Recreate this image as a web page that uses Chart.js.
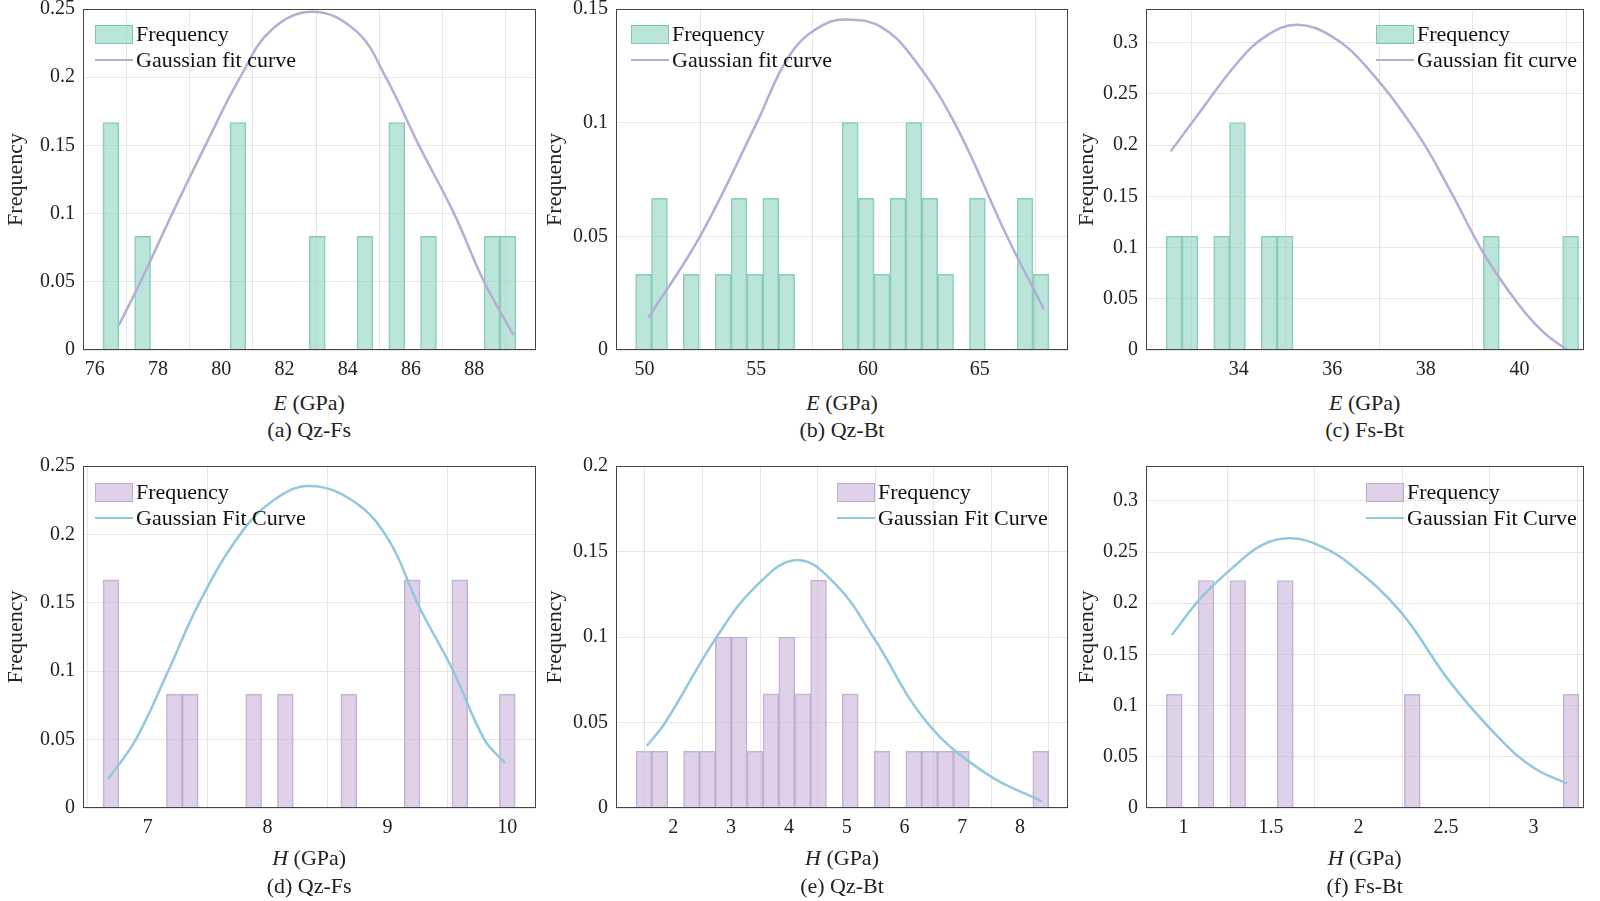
<!DOCTYPE html>
<html lang="en">
<head>
<meta charset="UTF-8">
<title>Frequency histograms with Gaussian fits</title>
<script src="https://cdn.jsdelivr.net/npm/chart.js"></script>
<style>
    body { margin: 0; background: #fff; font-family: "Liberation Serif", serif; }
    #wrap { position: relative; width: 1600px; height: 901px; overflow: hidden; }
    .cv { position: absolute; }
    .txt { position: absolute; font-size: 22px; color: #222; white-space: nowrap; transform: translate(-50%, -50%); }
    .leg { position: absolute; font-size: 22px; color: #111; white-space: nowrap; line-height: 26px; }
    .leg .row { display: flex; align-items: center; height: 26px; }
    .leg .sw { width: 38px; height: 19px; margin-right: 3px; box-sizing: border-box; }
    .leg .ln { width: 38px; height: 2.5px; margin-right: 3px; }
</style>
</head>
<body>
<div id="wrap"></div>

<script>
// ---- data ----
// histogram bins: start, width, heights per bin
const binStartA = 76.26, binWidthA = 0.502;
const freqA = [0.1667,0,0.0833,0,0,0,0,0,0.1667,0,0,0,0,0.0833,0,0,0.0833,0,0.1667,0,0.0833,0,0,0,0.0833,0.0833];
const fitA = [[76.76,0.018],[77.45,0.05],[78.45,0.10],[79.5,0.15],[80.6,0.20],[81.6,0.235],[82.93,0.248],[84.3,0.233],[85.2,0.20],[86.25,0.15],[87.36,0.10],[88.31,0.05],[89.24,0.011]];

const binStartB = 49.61, binWidthB = 0.711;
const freqB = [0.0333,0.0667,0,0.0333,0,0.0333,0.0667,0.0333,0.0667,0.0333,0,0,0,0.1,0.0667,0.0333,0.0667,0.1,0.0667,0.0333,0,0.0667,0,0,0.0667,0.0333];
const fitB = [[50.18,0.0143],[52.49,0.05],[55.03,0.10],[56.52,0.13],[58.0,0.143],[59.28,0.1453],[60.6,0.142],[61.9,0.13],[63.87,0.10],[66.22,0.05],[67.87,0.018]];

const binStartC = 32.45, binWidthC = 0.339;
const freqC = [0.1111,0.1111,0,0.1111,0.2222,0,0.1111,0.1111,0,0,0,0,0,0,0,0,0,0,0,0,0.1111,0,0,0,0,0.1111];
const fitC = [[32.55,0.194],[33.18,0.233],[34.0,0.282],[34.6,0.307],[35.25,0.3176],[36.0,0.306],[36.74,0.276],[37.81,0.212],[38.53,0.155],[39.24,0.094],[39.95,0.0465],[40.5,0.018],[41.02,0.0]];

const binStartD = 6.627, binWidthD = 0.1323;
const freqD = [0.1667,0,0,0,0.0833,0.0833,0,0,0,0.0833,0,0.0833,0,0,0,0.0833,0,0,0,0.1667,0,0,0.1667,0,0,0.0833];
const fitD = [[6.67,0.0213],[6.90,0.05],[7.17,0.10],[7.43,0.15],[7.77,0.20],[8.05,0.225],[8.35,0.2353],[8.72,0.224],[9.01,0.196],[9.26,0.148],[9.55,0.10],[9.81,0.05],[9.98,0.033]];

const binStartE = 1.354, binWidthE = 0.2747;
const freqE = [0.0333,0.0333,0,0.0333,0.0333,0.1,0.1,0.0333,0.0667,0.1,0.0667,0.1333,0,0.0667,0,0.0333,0,0.0333,0.0333,0.0333,0.0333,0,0,0,0,0.0333];
const fitE = [[1.54,0.0363],[1.86,0.05],[2.75,0.10],[3.44,0.13],[4.15,0.1451],[4.83,0.13],[5.46,0.10],[6.39,0.05],[7.42,0.02],[8.375,0.0039]];

const binStartF = 0.901, binWidthF = 0.0907;
const freqF = [0.1111,0,0.2222,0,0.2222,0,0,0.2222,0,0,0,0,0,0,0,0.1111,0,0,0,0,0,0,0,0,0,0.1111];
const fitF = [[0.933,0.169],[1.095,0.2045],[1.286,0.2356],[1.45,0.257],[1.61,0.2634],[1.78,0.256],[1.952,0.238],[2.238,0.192],[2.524,0.1227],[2.81,0.0671],[3.0,0.0393],[3.19,0.0239]];

// tick labels
const xTicksA = [76,78,80,82,84,86,88], xTicksB = [50,55,60,65], xTicksC = [34,36,38,40];
const xTicksD = [7,8,9,10], xTicksE = [2,3,4,5,6,7,8], xTicksF = [1,1.5,2,2.5,3];
const yTicksA = [0,0.05,0.1,0.15,0.2,0.25], yTicksB = [0,0.05,0.1,0.15];
const yTicksC = [0,0.05,0.1,0.15,0.2,0.25,0.3], yTicksE = [0,0.05,0.1,0.15,0.2];

const panels = [
    { start: binStartA, width: binWidthA, freq: freqA, fit: fitA, xmin: 75.63, xmax: 89.95, ymax: 0.25, xt: xTicksA, yt: yTicksA,
      rect: [82.7, 8.3, 535.7, 347.3], padL: 80, leg: [95, 21], fitName: 'Gaussian fit curve', xl: 'E', cap: '(a) Qz-Fs', row: 0 },
    { start: binStartB, width: binWidthB, freq: freqB, fit: fitB, xmin: 48.73, xmax: 68.95, ymax: 0.15, xt: xTicksB, yt: yTicksB,
      rect: [616, 8.3, 1068, 347.3], padL: 74, leg: [631, 21], fitName: 'Gaussian fit curve', xl: 'E', cap: '(b) Qz-Bt', row: 0 },
    { start: binStartC, width: binWidthC, freq: freqC, fit: fitC, xmin: 32.02, xmax: 41.38, ymax: 0.333, xt: xTicksC, yt: yTicksC,
      rect: [1145.7, 8.3, 1583.7, 347.3], padL: 72, leg: [1376, 21], fitName: 'Gaussian fit curve', xl: 'E', cap: '(c) Fs-Bt', row: 0 },
    { start: binStartD, width: binWidthD, freq: freqD, fit: fitD, xmin: 6.46, xmax: 10.24, ymax: 0.25, xt: xTicksD, yt: yTicksA,
      rect: [82.7, 465, 535.7, 805], padL: 80, leg: [95, 479], fitName: 'Gaussian Fit Curve', xl: 'H', cap: '(d) Qz-Fs', row: 1 },
    { start: binStartE, width: binWidthE, freq: freqE, fit: fitE, xmin: 1.008, xmax: 8.83, ymax: 0.2, xt: xTicksE, yt: yTicksE,
      rect: [616, 465, 1068, 805], padL: 74, leg: [837, 479], fitName: 'Gaussian Fit Curve', xl: 'H', cap: '(e) Qz-Bt', row: 1 },
    { start: binStartF, width: binWidthF, freq: freqF, fit: fitF, xmin: 0.785, xmax: 3.288, ymax: 0.334, xt: xTicksF, yt: yTicksC,
      rect: [1145.7, 465, 1583.7, 805], padL: 72, leg: [1366, 479], fitName: 'Gaussian Fit Curve', xl: 'H', cap: '(f) Fs-Bt', row: 1 }
];

const colors = [
    { bar: 'rgba(150,215,198,0.65)', barEdge: 'rgba(110,190,170,0.8)', line: '#b3aed6' },
    { bar: 'rgba(204,184,220,0.65)', barEdge: 'rgba(180,160,200,0.8)', line: '#92c8dd' }
];

const wrap = document.getElementById('wrap');
// space the library keeps above / below the plot box (tick label overflow, x tick row)
const padT = 19, padR = 10, padB = 43;

const framePlugin = {
    id: 'frame',
    afterDraw(chart) {
        const a = chart.chartArea, c = chart.ctx;
        c.save();
        c.strokeStyle = '#444';
        c.lineWidth = 1;
        c.strokeRect(a.left + 0.5, a.top + 0.5, a.right - a.left - 1, a.bottom - a.top - 1);
        c.restore();
    }
};

function addText(html, x, y, cls) {
    const d = document.createElement('div');
    d.className = cls;
    d.style.left = x + 'px';
    d.style.top = y + 'px';
    d.innerHTML = html;
    wrap.appendChild(d);
    return d;
}

panels.forEach(p => {
    const col = colors[p.row];
    const [L, T, R, B] = p.rect;
    const cv = document.createElement('canvas');
    cv.className = 'cv';
    const w = R - L + p.padL + padR, h = B - T + padT + padB;
    cv.style.left = (L - p.padL) + 'px';
    cv.style.top = (T - padT) + 'px';
    cv.style.width = w + 'px';
    cv.style.height = h + 'px';
    cv.width = w; cv.height = h;
    wrap.appendChild(cv);

    const bars = p.freq.map((v, i) => ({ x: p.start + (i + 0.5) * p.width, y: v }));
    const fit = p.fit.map(q => ({ x: q[0], y: q[1] }));

    new Chart(cv, {
        data: {
            datasets: [
                { type: 'line', data: fit, borderColor: col.line, borderWidth: 2.5, pointRadius: 0,
                  tension: 0.4, fill: false, order: 0 },
                { type: 'bar', data: bars, backgroundColor: col.bar, borderColor: col.barEdge, borderWidth: 1,
                  barPercentage: 1, categoryPercentage: 1, grouped: false, order: 1 }
            ]
        },
        options: {
            responsive: false,
            animation: false,
            layout: { padding: { top: 0, right: padR, left: 0, bottom: 0 } },
            plugins: { legend: { display: false }, tooltip: { enabled: false } },
            scales: {
                x: {
                    type: 'linear', min: p.xmin, max: p.xmax, offset: false,
                    afterBuildTicks: s => { s.ticks = p.xt.map(v => ({ value: v })); },
                    afterFit: s => { s.height = 40; },
                    grid: { color: '#e6e6e6', drawTicks: false },
                    border: { display: false },
                    ticks: { color: '#222', padding: 8, maxRotation: 0, font: { family: 'Liberation Serif', size: 20 },
                             callback: v => String(v) }
                },
                y: {
                    min: 0, max: p.ymax,
                    afterBuildTicks: s => { s.ticks = p.yt.map(v => ({ value: v })); },
                    afterFit: s => { s.width = p.padL; },
                    grid: { color: '#e6e6e6', drawTicks: false },
                    border: { display: false },
                    title: { display: true, text: 'Frequency', color: '#222', padding: 0, font: { family: 'Liberation Serif', size: 22 } },
                    ticks: { color: '#222', padding: 8, font: { family: 'Liberation Serif', size: 20 },
                             callback: v => String(v) }
                }
            }
        },
        plugins: [framePlugin]
    });

    const cx = (L + R) / 2;
    const yl = p.row === 0 ? 403 : 858, yc = p.row === 0 ? 430 : 886;
    addText('<i>' + p.xl + '</i> (GPa)', cx, yl, 'txt');
    addText(p.cap, cx, yc, 'txt');

    const lg = addText('', p.leg[0], p.leg[1], 'leg');
    lg.innerHTML =
        '<div class="row"><div class="sw" style="background:' + col.bar + ';border:1px solid ' + col.barEdge + '"></div>Frequency</div>' +
        '<div class="row"><div class="ln" style="background:' + col.line + '"></div>' + p.fitName + '</div>';
});
</script>
</body>
</html>
